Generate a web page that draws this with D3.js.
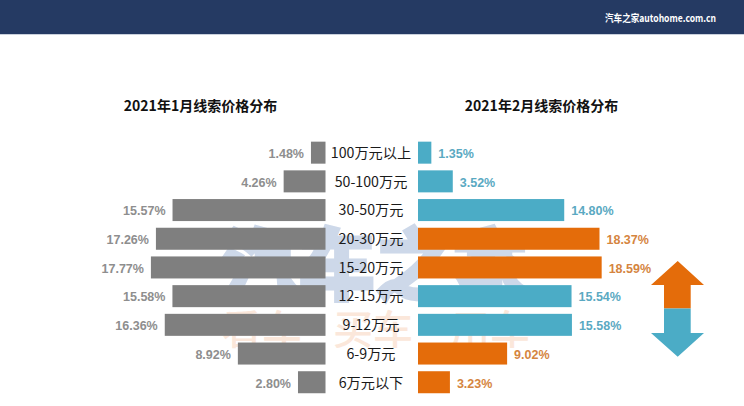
<!DOCTYPE html>
<html>
<head>
<meta charset="utf-8">
<script src="https://cdn.jsdelivr.net/npm/d3@7"></script>
<style>
    html, body { margin: 0; padding: 0; background: #fff; }
    svg { display: block; }
    text { font-family: "Noto Sans CJK SC", "Noto Sans", sans-serif; }
    .value { font-family: "Liberation Sans", Arial, sans-serif; font-size: 12.5px; font-weight: 700; }
</style>
</head>
<body>
<svg id="chart" width="744" height="406"></svg>
<script>
const categories = ['100万元以上', '50-100万元', '30-50万元', '20-30万元', '15-20万元', '12-15万元', '9-12万元', '6-9万元', '6万元以下']
const janValues = [1.48, 4.26, 15.57, 17.26, 17.77, 15.58, 16.36, 8.92, 2.80]
const febValues = [1.35, 3.52, 14.80, 18.37, 18.59, 15.54, 15.58, 9.02, 3.23]
const titles = ['2021年1月线索价格分布', '2021年2月线索价格分布']
const watermarkTop = '汽车之家'
const watermarkBottom = ['看车', '买车', '用车']

const gray = '#7f7f7f'
const blue = '#4bacc6'
const orange = '#e46c0a'

const svg = d3.select('#chart')

// header band
svg.append('rect').attr('width', 744).attr('height', 34).attr('fill', '#253a63')
svg.append('rect').attr('y', 34).attr('width', 744).attr('height', 1).attr('fill', '#c9d0dc')
svg.append('text')
    .attr('x', 605).attr('y', 22)
    .attr('textLength', 111).attr('lengthAdjust', 'spacingAndGlyphs')
    .attr('fill', '#fff').attr('font-size', 10.5).attr('font-weight', 700)
    .text('汽车之家autohome.com.cn')

// watermark sits behind the bars
svg.append('text')
    .attr('x', 222).attr('y', 294)
    .attr('textLength', 306).attr('lengthAdjust', 'spacingAndGlyphs')
    .attr('fill', '#cdd8e9').attr('stroke', '#cdd8e9').attr('stroke-width', 3)
    .attr('font-size', 78).attr('font-weight', 900)
    .text(watermarkTop)
svg.selectAll('.mark-bottom')
    .data(watermarkBottom)
    .join('text')
    .attr('class', 'mark-bottom')
    .attr('x', (d, i) => [222, 333, 450][i])
    .attr('y', 344)
    .attr('fill', '#fbe7da').attr('font-size', 40).attr('font-weight', 500)
    .text((d) => d)

const y = d3.scaleBand()
    .domain(categories)
    .range([138.3, 396.6])
    .paddingInner(0.233)
    .paddingOuter(0.117)

const janX = d3.scaleLinear().domain([0, 20]).range([325.5, 129])
const febX = d3.scaleLinear().domain([0, 20]).range([418, 615.6])

const rows = categories.map((name, i) => ({ name, jan: janValues[i], feb: febValues[i] }))
const febColor = (d) => d.feb > d.jan ? orange : blue

// left bars
svg.append('g').selectAll('rect')
    .data(rows)
    .join('rect')
    .attr('x', (d) => janX(d.jan))
    .attr('y', (d) => y(d.name))
    .attr('width', (d) => janX(0) - janX(d.jan))
    .attr('height', y.bandwidth())
    .attr('fill', gray)

svg.append('g').selectAll('text')
    .data(rows)
    .join('text')
    .attr('class', 'value')
    .attr('x', (d) => janX(d.jan) - 7)
    .attr('y', (d) => y(d.name) + y.bandwidth() / 2 + 0.8)
    .attr('dy', '0.36em')
    .attr('text-anchor', 'end')
    .attr('fill', '#8e8e8e')
    .text((d) => d.jan.toFixed(2) + '%')

// right bars
svg.append('g').selectAll('rect')
    .data(rows)
    .join('rect')
    .attr('x', febX(0))
    .attr('y', (d) => y(d.name))
    .attr('width', (d) => febX(d.feb) - febX(0))
    .attr('height', y.bandwidth())
    .attr('fill', febColor)

svg.append('g').selectAll('text')
    .data(rows)
    .join('text')
    .attr('class', 'value')
    .attr('x', (d) => febX(d.feb) + 7)
    .attr('y', (d) => y(d.name) + y.bandwidth() / 2 + 0.8)
    .attr('dy', '0.36em')
    .attr('fill', (d) => d.feb > d.jan ? '#d5853f' : '#5aa9c2')
    .text((d) => d.feb.toFixed(2) + '%')

// category names in the gap, drawn as a plain axis
const axis = svg.append('g')
    .attr('transform', 'translate(371,0.8)')
    .call(d3.axisLeft(y).tickSize(0).tickPadding(0))
axis.select('.domain').remove()
axis.selectAll('text')
    .attr('x', 0)
    .attr('text-anchor', 'middle')
    .attr('fill', '#1a1a1a')
    .attr('font-size', 14.2)
    .style('font-family', '"Noto Sans CJK SC", sans-serif')

svg.selectAll('.title')
    .data(titles)
    .join('text')
    .attr('class', 'title')
    .attr('x', (d, i) => i === 0 ? 200.5 : 541.5)
    .attr('y', 111)
    .attr('text-anchor', 'middle')
    .attr('fill', '#111')
    .attr('font-size', 14)
    .attr('font-weight', 700)
    .text((d) => d)

// up / down arrow on the right
svg.append('path')
    .attr('d', 'M677.7,261 L704,285 L690.7,285 L690.7,308.5 L664,308.5 L664,285 L651,285 Z')
    .attr('fill', orange)
svg.append('path')
    .attr('d', 'M664,308.5 L690.7,308.5 L690.7,333 L704,333 L677.7,356.7 L651,333 L664,333 Z')
    .attr('fill', blue)
</script>
</body>
</html>
